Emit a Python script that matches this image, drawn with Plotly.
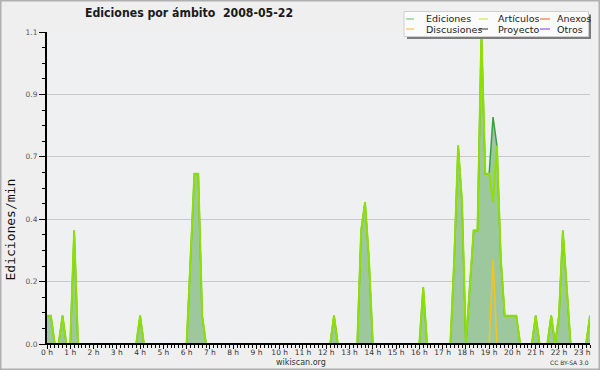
import plotly.graph_objects as go

# ---------------- data (edits per minute, 10-minute bins from 00:00 to 23:20) ----------------
minutos = list(range(0, 1410, 10))  # bin start, minutes after midnight

ediciones = [
    0.1, 0.1, 0, 0, 0.1, 0,        # 0 h
    0, 0.4, 0, 0, 0, 0,            # 1 h
    0, 0, 0, 0, 0, 0,              # 2 h
    0, 0, 0, 0, 0, 0,              # 3 h
    0.1, 0, 0, 0, 0, 0,            # 4 h
    0, 0, 0, 0, 0, 0,              # 5 h
    0, 0.3, 0.6, 0.6, 0.1, 0,      # 6 h
    0, 0, 0, 0, 0, 0,              # 7 h
    0, 0, 0, 0, 0, 0,              # 8 h
    0, 0, 0, 0, 0, 0,              # 9 h
    0, 0, 0, 0, 0, 0,              # 10 h
    0, 0, 0, 0, 0, 0,              # 11 h
    0, 0, 0.1, 0, 0, 0,            # 12 h
    0, 0, 0, 0.4, 0.5, 0.3,        # 13 h
    0, 0, 0, 0, 0, 0,              # 14 h
    0, 0, 0, 0, 0, 0,              # 15 h
    0, 0.2, 0, 0, 0, 0,            # 16 h
    0, 0, 0, 0.3, 0.7, 0.5,        # 17 h
    0, 0.2, 0.4, 0.4, 1.1, 0.6,    # 18 h
    0.6, 0.8, 0.7, 0.3, 0.1, 0.1,  # 19 h
    0.1, 0.1, 0, 0, 0, 0,          # 20 h
    0.1, 0, 0, 0, 0.1, 0,          # 21 h
    0.1, 0.4, 0.2, 0, 0, 0,        # 22 h
    0, 0, 0.1,                     # 23 h
]

articulos = [
    0.1, 0.1, 0, 0, 0.1, 0,
    0, 0.4, 0, 0, 0, 0,
    0, 0, 0, 0, 0, 0,
    0, 0, 0, 0, 0, 0,
    0.1, 0, 0, 0, 0, 0,
    0, 0, 0, 0, 0, 0,
    0, 0.3, 0.6, 0.6, 0.1, 0,
    0, 0, 0, 0, 0, 0,
    0, 0, 0, 0, 0, 0,
    0, 0, 0, 0, 0, 0,
    0, 0, 0, 0, 0, 0,
    0, 0, 0, 0, 0, 0,
    0, 0, 0.1, 0, 0, 0,
    0, 0, 0, 0.4, 0.5, 0.3,
    0, 0, 0, 0, 0, 0,
    0, 0, 0, 0, 0, 0,
    0, 0.2, 0, 0, 0, 0,
    0, 0, 0, 0.3, 0.7, 0.5,
    0, 0.2, 0.4, 0.4, 1.1, 0.6,
    0.6, 0.5, 0.7, 0.3, 0.1, 0.1,
    0.1, 0.1, 0, 0, 0, 0,
    0.1, 0, 0, 0, 0.1, 0,
    0.1, 0.4, 0.2, 0, 0, 0,
    0, 0, 0.1,
]

discusiones = [
    0, 0, 0, 0, 0, 0,
    0, 0, 0, 0, 0, 0,
    0, 0, 0, 0, 0, 0,
    0, 0, 0, 0, 0, 0,
    0, 0, 0, 0, 0, 0,
    0, 0, 0, 0, 0, 0,
    0, 0, 0, 0, 0, 0,
    0, 0, 0, 0, 0, 0,
    0, 0, 0, 0, 0, 0,
    0, 0, 0, 0, 0, 0,
    0, 0, 0, 0, 0, 0,
    0, 0, 0, 0, 0, 0,
    0, 0, 0, 0, 0, 0,
    0, 0, 0, 0, 0, 0,
    0, 0, 0, 0, 0, 0,
    0, 0, 0, 0, 0, 0,
    0, 0, 0, 0, 0, 0,
    0, 0, 0, 0, 0, 0,
    0, 0, 0, 0, 0, 0,
    0, 0.3, 0, 0, 0, 0,
    0, 0, 0, 0, 0, 0,
    0, 0, 0, 0, 0, 0,
    0, 0, 0, 0, 0, 0,
    0, 0, 0,
]

hora_ticks = list(range(24))
hora_labels = ["0 h", "1 h", "2 h", "3 h", "4 h", "5 h", "6 h", "7 h", "8 h", "9 h",
               "10 h", "11 h", "12 h", "13 h", "14 h", "15 h", "16 h", "17 h", "18 h",
               "19 h", "20 h", "21 h", "22 h", "23 h"]

y_ticks = [0, 0.22, 0.44, 0.66, 0.88, 1.1]
y_labels = ["0.0", "0.2", "0.4", "0.7", "0.9", "1.1"]

leyenda_nombres = ["Ediciones", "Artículos", "Anexos", "Discusiones", "Proyecto", "Otros"]
leyenda_colores = ["#80cc80", "#c8ea50", "#f07a45", "#f8c845", "#555555", "#9a55ee"]

# ---------------- figure ----------------
horas = [m / 60 for m in minutos]

L, R, T, B = 47, 10, 32, 26
FW, FH = 600, 370
PW, PH = FW - L - R, FH - T - B


def fx(px):
    return (px - L) / PW


def fy(py):
    return (T + PH - py) / PH


SANS = "DejaVu Sans, sans-serif"
COND = "DejaVu Sans Condensed, DejaVu Sans, sans-serif"

fig = go.Figure()
fig.add_trace(go.Scatter(
    x=horas, y=ediciones, name="Ediciones", mode="lines",
    line=dict(color="#38a040", width=1.5),
    fill="tozeroy", fillcolor="#9dc89d", showlegend=False, hoverinfo="skip"))
fig.add_trace(go.Scatter(
    x=horas, y=articulos, name="Artículos", mode="lines",
    line=dict(color="#8ee000", width=2), showlegend=False, hoverinfo="skip"))
fig.add_trace(go.Scatter(
    x=horas, y=discusiones, name="Discusiones", mode="lines",
    line=dict(color="#f5c518", width=1.5), showlegend=False, hoverinfo="skip"))

shapes = []
# baseline cover (hides zero-valued line segments, like the axis in the original)
shapes.append(dict(type="line", xref="paper", yref="y", x0=0, x1=1, y0=0, y1=0,
                   line=dict(color="black", width=2), layer="above"))
# outer frame
shapes.append(dict(type="rect", xref="paper", yref="paper",
                   x0=fx(0.75), x1=fx(599.25), y0=fy(369.25), y1=fy(0.75),
                   line=dict(color="#b0b0b0", width=1.5), layer="above"))
# legend box shadow + box
shapes.append(dict(type="rect", xref="paper", yref="paper",
                   x0=fx(407), x1=fx(591), y0=fy(39), y1=fy(14.5),
                   line=dict(width=0), fillcolor="#7c7c7c", layer="above"))
shapes.append(dict(type="rect", xref="paper", yref="paper",
                   x0=fx(404), x1=fx(588.5), y0=fy(36.5), y1=fy(11.5),
                   line=dict(color="#d0d0d0", width=1), fillcolor="#fbfbfb", layer="above"))

annotations = []
col_sample = [(406, 414), (479, 488), (540, 550)]
col_text = [424, 496, 555]
row_y = [19, 29]
for i, (nombre, color) in enumerate(zip(leyenda_nombres, leyenda_colores)):
    r, c = divmod(i, 3)
    s0, s1 = col_sample[c]
    shapes.append(dict(type="line", xref="paper", yref="paper",
                       x0=fx(s0), x1=fx(s1), y0=fy(row_y[r]), y1=fy(row_y[r]),
                       line=dict(color=color, width=1.2), layer="above"))
    annotations.append(dict(text=nombre, xref="paper", yref="paper",
                            x=fx(col_text[c]), y=fy(row_y[r]), xanchor="left", yanchor="middle",
                            showarrow=False, font=dict(family=SANS, size=9.5, color="#222")))

# title
annotations.append(dict(text="Ediciones por ámbito\u00a0\u00a02008-05-22", xref="paper", yref="paper",
                        x=fx(188.5), y=fy(13.5), xanchor="center", yanchor="middle", showarrow=False,
                        font=dict(family=COND, size=12.2, color="#1a1a1a", weight="bold")))
# y axis title
annotations.append(dict(text="Ediciones/min", xref="paper", yref="paper",
                        x=fx(9.5), y=fy(230), xanchor="center", yanchor="middle", showarrow=False,
                        textangle=-90, font=dict(family="DejaVu Sans Mono, monospace", size=13, color="#111")))
# footer texts
annotations.append(dict(text="wikiscan.org", xref="paper", yref="paper",
                        x=fx(300.5), y=fy(362.5), xanchor="center", yanchor="middle", showarrow=False,
                        font=dict(family=SANS, size=8, color="#333")))
annotations.append(dict(text="CC BY-SA 3.0", xref="paper", yref="paper",
                        x=fx(569), y=fy(362.5), xanchor="center", yanchor="middle", showarrow=False,
                        font=dict(family=SANS, size=6, color="#333")))

fig.update_layout(
    width=FW, height=FH,
    margin=dict(l=L, r=R, t=T, b=B, pad=0),
    paper_bgcolor="#efefef", plot_bgcolor="#eff0f2",
    showlegend=False,
    shapes=shapes, annotations=annotations,
    xaxis=dict(range=[0, minutos[-1] / 60], tickmode="array", tickvals=hora_ticks, ticktext=hora_labels,
               showgrid=False, zeroline=False, showline=True, linecolor="black", linewidth=1,
               ticks="outside", ticklen=4, tickcolor="black", tickwidth=1,
               ticklabelstandoff=-3,
               tickfont=dict(family=SANS, size=7.5, color="#333"),
               minor=dict(tickmode="linear", tick0=0, dtick=1 / 6, ticks="outside", ticklen=3,
                          tickcolor="black", tickwidth=1, showgrid=False),
               fixedrange=True),
    yaxis=dict(range=[0, 1.1], tickmode="array", tickvals=y_ticks, ticktext=y_labels,
               showgrid=True, gridcolor="#c9c9c9", gridwidth=1, zeroline=False,
               showline=True, linecolor="black", linewidth=2,
               ticks="outside", ticklen=6, tickcolor="black", tickwidth=1,
               tickfont=dict(family=SANS, size=7.5, color="#555"),
               minor=dict(tickmode="linear", tick0=0, dtick=0.055, ticks="outside", ticklen=3,
                          tickcolor="black", tickwidth=1, showgrid=False),
               fixedrange=True),
)

fig.write_html("out.html", config={"displayModeBar": False},
               post_script="document.body.style.margin='0';document.body.style.overflow='hidden';")
